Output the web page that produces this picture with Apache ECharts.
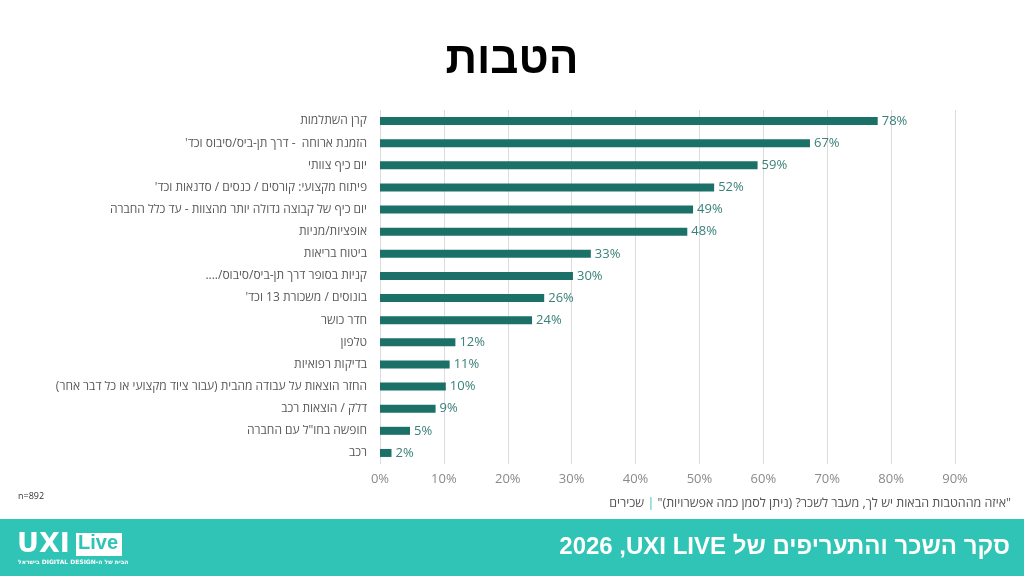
<!DOCTYPE html>
<html lang="he">
<head>
<meta charset="utf-8">
<script src="https://cdn.jsdelivr.net/npm/echarts@6/dist/echarts.min.js"></script>
<style>
    html, body { margin: 0; padding: 0; background: #fff; }
    #chart { width: 1024px; height: 576px; direction: rtl; }
</style>
</head>
<body>
<div id="chart"></div>
<script>
// קטגוריות ההטבות, מלמעלה למטה
var categories = [
    'קרן השתלמות',
    "הזמנת ארוחה  - דרך תן-ביס/סיבוס וכד'",
    'יום כיף צוותי',
    "פיתוח מקצועי: קורסים / כנסים / סדנאות וכד'",
    'יום כיף של קבוצה גדולה יותר מהצוות - עד כלל החברה',
    'אופציות/מניות',
    'ביטוח בריאות',
    'קניות בסופר דרך תן-ביס/סיבוס/....',
    "בונוסים / משכורת 13 וכד'",
    'חדר כושר',
    'טלפון',
    'בדיקות רפואיות',
    'החזר הוצאות על עבודה מהבית (עבור ציוד מקצועי או כל דבר אחר)',
    'דלק / הוצאות רכב',
    'חופשה בחו"ל עם החברה',
    'רכב'
];
var shares = [77.9, 67.3, 59.1, 52.3, 49.0, 48.1, 33.0, 30.2, 25.7, 23.8, 11.8, 10.9, 10.3, 8.7, 4.7, 1.8];
var xTicks = [0, 90, 10];

var titleText = 'הטבות';
// RLM אחרי LIVE כדי שהשנה תוצג משמאל כמו במקור
var footerTitle = 'סקר השכר והתעריפים של UXI LIVE\u200F, 2026';
var questionText = '"איזה מההטבות הבאות יש לך, מעבר לשכר? (ניתן לסמן כמה אפשרויות)"';
var groupText = 'שכירים';
var sampleText = 'n=892';

var teal = '#1b7068';
var band = '#2fc4b5';

var chart = echarts.init(document.getElementById('chart'));

var option = {
    backgroundColor: '#fff',
    animation: false,
    grid: { left: 380, right: 69, top: 110, bottom: 112 },
    xAxis: {
        type: 'value',
        min: xTicks[0],
        max: xTicks[1],
        interval: xTicks[2],
        axisLine: { show: false },
        axisTick: { show: false },
        axisLabel: {
            formatter: '{value}%',
            color: '#8a8a8a',
            fontSize: 13,
            fontFamily: 'Open Sans',
            margin: 9
        },
        splitLine: { lineStyle: { color: '#dcdcdc', width: 1 } }
    },
    yAxis: {
        type: 'category',
        data: categories,
        inverse: true,
        axisLine: { show: false },
        axisTick: { show: false },
        axisLabel: {
            color: '#595959',
            fontSize: 12,
            fontFamily: 'Open Sans',
            margin: 13
        }
    },
    series: [{
        type: 'bar',
        data: shares,
        barWidth: 8,
        itemStyle: { color: teal },
        label: {
            show: true,
            position: 'right',
            distance: 4,
            color: '#3a817a',
            fontSize: 13,
            fontFamily: 'Open Sans',
            formatter: function (p) { return Math.round(p.value) + '%'; }
        }
    }],
    graphic: [
        {
            type: 'text',
            left: 'center',
            top: 39,
            style: {
                text: titleText,
                font: '900 44px "Liberation Sans"',
                fill: '#000'
            }
        },
        {
            type: 'text',
            left: 18,
            top: 492,
            style: { text: sampleText, font: '9px "Open Sans"', fill: '#333' }
        },
        {
            type: 'text',
            right: 13,
            top: 497,
            style: {
                // טוקנים בסדר ויזואלי משמאל לימין
                text: '{g|' + groupText + '}{p| | }{q|' + questionText + '}',
                rich: {
                    g: { font: '12.5px "Open Sans"', fill: '#555' },
                    p: { font: '12.5px "Open Sans"', fill: band },
                    q: { font: '12.5px "Open Sans"', fill: '#555' }
                }
            }
        },
        {
            type: 'rect',
            left: 0,
            top: 519,
            shape: { width: 1024, height: 57 },
            style: { fill: band }
        },
        {
            type: 'text',
            right: 14,
            top: 535,
            style: {
                text: footerTitle,
                font: 'bold 24px "Liberation Sans"',
                fill: '#fff'
            }
        },
        // לוגו
        {
            type: 'text',
            left: 17,
            top: 531,
            style: { text: 'UXI', font: '900 27px "DejaVu Sans"', fill: '#fff' }
        },
        {
            type: 'rect',
            left: 76,
            top: 533,
            shape: { width: 46, height: 23 },
            style: { fill: '#fff' }
        },
        {
            type: 'text',
            left: 78,
            top: 533,
            style: { text: 'Live', font: 'bold 20px "Liberation Sans"', fill: band }
        },
        {
            type: 'text',
            left: 18,
            top: 559,
            style: { text: 'הבית של ה-DIGITAL DESIGN בישראל', font: 'bold 6px "DejaVu Sans"', fill: '#fff' }
        }
    ]
};

chart.setOption(option);
</script>
</body>
</html>
